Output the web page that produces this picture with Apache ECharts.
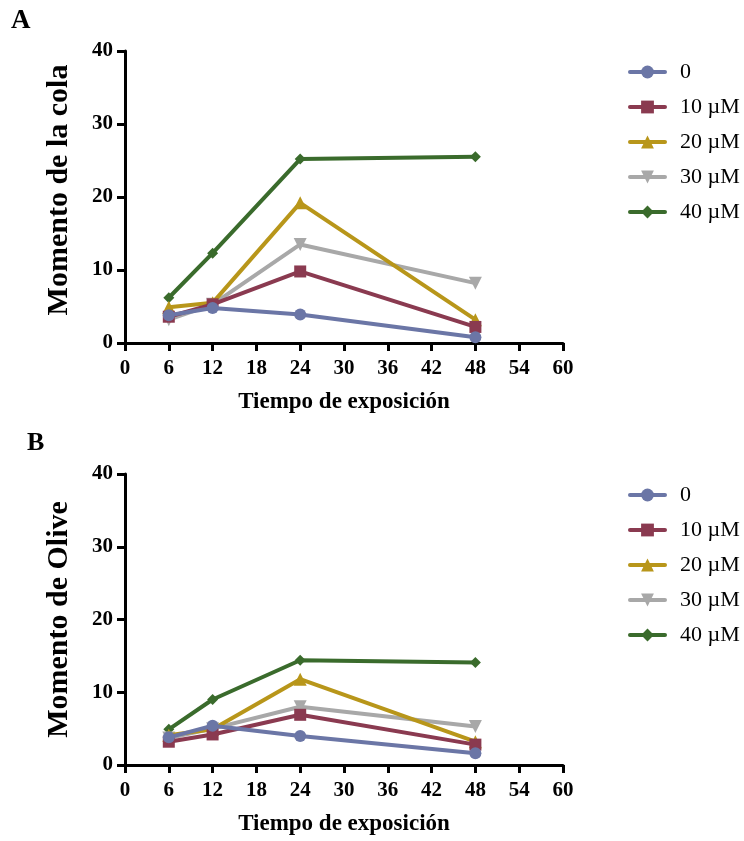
<!DOCTYPE html>
<html>
<head>
<meta charset="utf-8">
<script src="https://cdn.jsdelivr.net/npm/echarts@6/dist/echarts.min.js"></script>
<style>html,body{margin:0;padding:0;background:#fff}#c{width:744px;height:841px}</style>
</head>
<body>
<div id="c"></div>
<script>
// ---- data ----
var hours = [6, 12, 24, 48];
var seriesNames = ['0', '10 µM', '20 µM', '30 µM', '40 µM'];
// Panel A: Momento de la cola
var colaA0  = [3.8, 4.8, 3.9, 0.8];
var colaA10 = [3.6, 5.3, 9.8, 2.2];
var colaA20 = [4.9, 5.5, 19.2, 3.2];
var colaA30 = [3.2, 5.3, 13.5, 8.2];
var colaA40 = [6.2, 12.3, 25.2, 25.5];
// Panel B: Momento de Olive
var oliveB0  = [3.8, 5.4, 4.0, 1.6];
var oliveB10 = [3.2, 4.2, 6.9, 2.8];
var oliveB20 = [4.1, 4.9, 11.8, 3.2];
var oliveB30 = [3.7, 5.0, 8.0, 5.3];
var oliveB40 = [4.9, 9.0, 14.4, 14.1];
var xTicks = [0, 6, 12, 18, 24, 30, 36, 42, 48, 54, 60];
var yTicks = [0, 10, 20, 30, 40];

var colors = ['#6b76a6', '#8a3a50', '#b8961a', '#a8a8a8', '#3a6b2c'];
var symbols = ['circle', 'rect', 'triangle', 'triangle', 'diamond'];
var symbolRot = [0, 0, 0, 180, 0];
var symbolSizes = [12, 12, 13, 13, 11];

var dataA = [colaA0, colaA10, colaA20, colaA30, colaA40];
var dataB = [oliveB0, oliveB10, oliveB20, oliveB30, oliveB40];

function pairs(arr) { return hours.map(function (h, i) { return [h, arr[i]]; }); }

var FONT = '"Liberation Serif", "Times New Roman", serif';

function mkX(idx) {
  return {
    type: 'value', gridIndex: idx, min: xTicks[0], max: xTicks[xTicks.length - 1], interval: 6,
    name: 'Tiempo de exposición', nameLocation: 'middle', nameGap: 48,
    nameTextStyle: { fontFamily: FONT, fontWeight: 'bold', fontSize: 23, color: '#000' },
    axisLine: { show: true, lineStyle: { color: '#000', width: 3 } },
    axisTick: { show: true, length: 8, lineStyle: { color: '#000', width: 3 } },
    axisLabel: { fontFamily: FONT, fontWeight: 'bold', fontSize: 21, color: '#000', margin: 15 },
    splitLine: { show: false }
  };
}
function mkY(idx, title, shift) {
  return {
    type: 'value', gridIndex: idx, min: yTicks[0], max: yTicks[yTicks.length - 1], interval: 10,
    name: title, nameLocation: 'middle', nameGap: 51,
    nameTextStyle: { fontFamily: FONT, fontWeight: 'bold', fontSize: 30, color: '#000', padding: [0, 0, 0, shift] },
    axisLine: { show: true, lineStyle: { color: '#000', width: 3 } },
    axisTick: { show: true, length: 8, lineStyle: { color: '#000', width: 3 } },
    axisLabel: { fontFamily: FONT, fontWeight: 'bold', fontSize: 21, color: '#000', margin: 12 },
    splitLine: { show: false }
  };
}

var series = [];
[dataA, dataB].forEach(function (ds, g) {
  for (var k = ds.length - 1; k >= 0; k--) {
    series.push({
      type: 'line', name: seriesNames[k], xAxisIndex: g, yAxisIndex: g,
      data: pairs(ds[k]),
      symbol: symbols[k], symbolRotate: symbolRot[k], symbolSize: symbolSizes[k],
      lineStyle: { color: colors[k], width: 4 },
      itemStyle: { color: colors[k] },
      z: 10 - k,
      animation: false
    });
  }
});

function mkLegend(top) {
  return {
    data: seriesNames.slice(), orient: 'vertical', left: 628, top: top, padding: 0,
    itemWidth: 35, itemHeight: 16, itemGap: 13,
    lineStyle: { width: 4, cap: 'round' },
    textStyle: { fontFamily: FONT, fontSize: 22, color: '#000', lineHeight: 22, padding: [0, 0, 0, 10] },
    selectedMode: false
  };
}

var chart = echarts.init(document.getElementById('c'), null, { renderer: 'canvas' });
chart.setOption({
  backgroundColor: '#fff',
  animation: false,
  title: [
    { text: 'A', left: 11, top: 8, padding: 0, textStyle: { fontFamily: FONT, fontWeight: 'bold', fontSize: 27, color: '#000' } },
    { text: 'B', left: 27, top: 430, padding: 0, textStyle: { fontFamily: FONT, fontWeight: 'bold', fontSize: 26, color: '#000' } }
  ],
  grid: [
    { left: 125, top: 51, width: 438, height: 292 },
    { left: 125, top: 474, width: 438, height: 291 }
  ],
  xAxis: [mkX(0), mkX(1)],
  yAxis: [mkY(0, 'Momento de la cola', 14), mkY(1, 'Momento de Olive', 0)],
  legend: [mkLegend(61), mkLegend(484)],
  series: series
});
</script>
</body>
</html>
